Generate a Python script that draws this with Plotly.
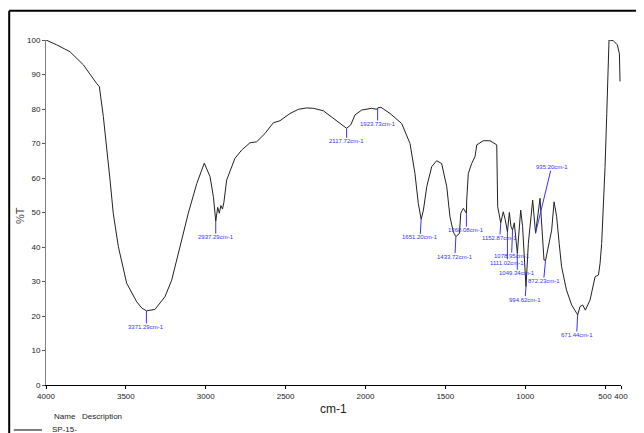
import plotly.graph_objects as go

# ---- spectrum data (wavenumber cm-1, %T) ----
wavenumber = [4000, 3933, 3850, 3766, 3683, 3666, 3641, 3620, 3599, 3579, 3547, 3495,
              3432, 3400, 3371, 3318, 3255, 3213, 3161, 3109, 3056, 3009, 2973, 2952,
              2937, 2925, 2915, 2905, 2895, 2886, 2869, 2817, 2775, 2723, 2681, 2629,
              2577, 2535, 2472, 2420, 2370, 2326, 2264, 2201, 2149, 2118, 2092, 2065,
              2023, 1961, 1930, 1924, 1903, 1846, 1773, 1721, 1690, 1669, 1651, 1637,
              1616, 1585, 1554, 1523, 1491, 1471, 1450, 1434, 1412, 1403, 1387, 1368,
              1366, 1356, 1335, 1314, 1303, 1262, 1220, 1178, 1172, 1165, 1153, 1137,
              1125, 1111, 1099, 1089, 1079, 1068, 1049, 1028, 1016, 995, 980, 953,
              935, 907, 882, 872, 845, 834, 819, 803, 787, 772, 741, 709,
              671, 657, 640, 623, 594, 569, 562, 541, 531, 521, 515, 511,
              500, 489, 479, 475, 448, 423, 410, 406]
transmittance = [100, 98.6, 96.6, 92.8, 87.4, 86.5, 77.8, 69, 59.4, 49.8, 40.1, 29.5,
                 24.1, 22.3, 21.5, 21.9, 25.6, 30.4, 40.1, 49.8, 58.4, 64.3, 60.4, 54.6,
                 47.5, 51.5, 49.8, 52.0, 51.0, 53.0, 59.4, 65.7, 68.1, 70.2, 70.5, 72.9,
                 76.0, 76.6, 78.7, 79.9, 80.3, 80.2, 79.5, 77.3, 75.4, 74.4, 75.4, 78.3,
                 79.7, 80.2, 79.9, 80.3, 80.5, 78.7, 75.8, 70, 61.3, 52.6, 48, 50.7,
                 57.5, 63.3, 65, 64.2, 57.5, 48.8, 44.4, 43, 43.9, 49.8, 51.2, 49.8,
                 53.6, 61.3, 64.2, 66.2, 69.6, 70.8, 70.8, 69.6, 51.7, 50, 47, 50.2,
                 48, 44.4, 50, 46, 44.9, 47, 38.2, 50.7, 45.9, 28.5, 41.1, 53.6,
                 44, 54.1, 36.2, 36.2, 42, 44.9, 53.1, 48.8, 41, 34.3, 27.5, 23.2,
                 20.3, 22.7, 23.2, 21.7, 24.6, 30.4, 31.4, 31.9, 35.3, 41, 46.9, 53.6,
                 63, 78.7, 97, 100, 99.8, 98.6, 96, 88]

# ---- peak labels ----
peak_wn = [3371.29, 2937.29, 2117.72, 1923.73, 1651.20, 1433.72, 1368.08, 1152.87,
           1111.02, 1078.95, 1049.34, 994.62, 935.20, 872.23, 671.44]
peak_T = [21.5, 47.5, 74.4, 80.3, 48.0, 43.0, 49.8, 47.0,
          44.4, 44.9, 38.2, 28.5, 44.0, 36.2, 20.3]
peak_text = ["3371.29cm-1", "2937.29cm-1", "2117.72cm-1", "1923.73cm-1", "1651.20cm-1",
             "1433.72cm-1", "1368.08cm-1", "1152.87cm-1", "1111.02cm-1", "1078.95cm-1",
             "1049.34cm-1", "994.62cm-1", "935.20cm-1", "872.23cm-1", "671.44cm-1"]

# label offsets (pixels) - layout only
label_ax = [0, 0, 0, 0, -1, -1, 0, -1, 0, -1, 0, -1, 16, -2, -1]
label_ay = [16, 16, 13, 16, 18, 20, 17, 15, 31, 26, 20, 13, -66, 21, 20]

x_ticks = [4000, 3500, 3000, 2500, 2000, 1500, 1000, 500, 400]
y_ticks = [0, 10, 20, 30, 40, 50, 60, 70, 80, 90, 100]

NARROW = "Liberation Sans Narrow, Arial Narrow, Liberation Sans, Arial"
TICK_FONT = dict(family=NARROW, size=8, color="#222222")
LBL_FONT = dict(family=NARROW, size=6, color="#3333ff")

fig = go.Figure()
fig.add_trace(go.Scatter(x=wavenumber, y=transmittance, mode="lines",
                         line=dict(color="#222222", width=1), showlegend=False,
                         hoverinfo="skip"))

for wn, t, txt, ax, ay in zip(peak_wn, peak_T, peak_text, label_ax, label_ay):
    fig.add_annotation(x=wn, y=t, text=txt, showarrow=True, arrowhead=0,
                       arrowwidth=1, arrowcolor="#3333ff", ax=ax, ay=ay,
                       standoff=0, font=LBL_FONT, borderpad=0)

# the page body has an 8px margin, so the figure is 8px smaller than the window
fig.update_layout(
    width=636, height=425,
    margin=dict(l=38, r=23, t=32, b=48),
    paper_bgcolor="white", plot_bgcolor="white",
    showlegend=False,
    xaxis=dict(range=[4000, 400], tickmode="array", tickvals=x_ticks,
               ticktext=[str(v) for v in x_ticks], showgrid=False, zeroline=False,
               showline=True, linecolor="black", linewidth=1,
               ticks="outside", ticklen=3, tickcolor="black", tickfont=TICK_FONT),
    yaxis=dict(range=[0, 100], tickmode="array", tickvals=y_ticks,
               ticktext=[str(v) for v in y_ticks], showgrid=False, zeroline=False,
               showline=True, linecolor="#808080", linewidth=1,
               ticks="outside", ticklen=3, tickcolor="#555555", tickfont=TICK_FONT),
)

# axis titles
fig.add_annotation(text="cm-1", xref="paper", yref="paper", x=0.5, y=-0.07,
                   showarrow=False, yanchor="middle",
                   font=dict(family=NARROW, size=12, color="#222222"))
fig.add_annotation(text="%T", xref="paper", yref="paper", x=-0.045, y=0.49,
                   showarrow=False, textangle=-90, xanchor="center",
                   font=dict(family="Liberation Sans, Arial", size=11, color="#444444"))

# legend-like footer
fig.add_annotation(text="Name&nbsp;&nbsp;&nbsp;Description", xref="paper", yref="paper",
                   x=0.01, y=-0.09, xanchor="left", yanchor="middle", showarrow=False,
                   font=dict(family=NARROW, size=8, color="#222222"))
fig.add_annotation(text="SP-15-", xref="paper", yref="paper",
                   x=0.007, y=-0.128, xanchor="left", yanchor="middle", showarrow=False,
                   font=dict(family=NARROW, size=8, color="#222222"))
fig.add_shape(type="line", xref="paper", yref="paper", x0=-0.056, x1=-0.007,
              y0=-0.1304, y1=-0.1304, line=dict(color="black", width=1))

# outer frame (top, left, right)
frame = dict(color="black", width=2)
fig.add_shape(type="line", xref="paper", yref="paper", x0=-0.064, x1=1.035,
              y0=1.085, y1=1.085, line=frame)
fig.add_shape(type="line", xref="paper", yref="paper", x0=-0.064, x1=-0.064,
              y0=1.085, y1=-0.2, line=frame)
fig.add_shape(type="line", xref="paper", yref="paper", x0=1.035, x1=1.035,
              y0=1.085, y1=-0.2, line=frame)

fig.write_html("out.html")
